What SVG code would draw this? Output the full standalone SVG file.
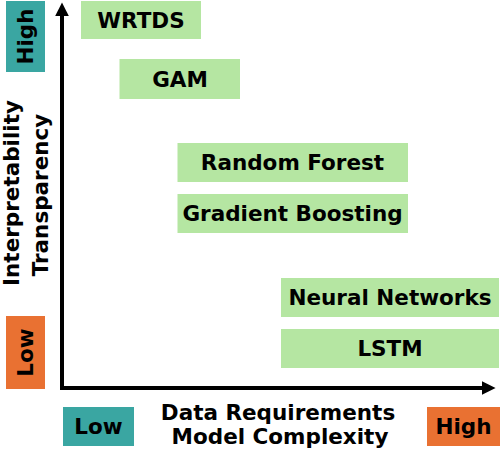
<svg xmlns="http://www.w3.org/2000/svg" width="500" height="456" viewBox="0 0 500 456">
<style>
text{font-family:"DejaVu Sans","Liberation Sans",sans-serif;font-weight:700;font-size:21.5px;fill:#000;text-anchor:middle}
.g{fill:#b5e6a2}
.t{fill:#3aa6a2}
.o{fill:#e97132}
.ax{stroke:#000;stroke-width:4;fill:none}
</style>
<defs>
<marker id="ah" markerWidth="4" markerHeight="4" refX="1" refY="2" orient="auto" markerUnits="strokeWidth" viewBox="0 0 4 4">
<path d="M0,0.3 L3.4,2 L0,3.7 Z" fill="#000"/>
</marker>
</defs>
<g id="axes">
<path class="ax" d="M62,389 L62,12" marker-end="url(#ah)"/>
<path class="ax" d="M60,388 L486,388" marker-end="url(#ah)"/>
</g>
<g id="ylabel">
<text transform="translate(0,193) rotate(-90)" y="18.5">Interpretability</text>
<text transform="translate(0,195) rotate(-90)" y="47.5">Transparency</text>
</g>
<g id="xlabel">
<text x="278" y="420">Data Requirements</text>
<text x="280" y="444">Model Complexity</text>
</g>
<g id="y-high"><rect class="t" x="6" y="1" width="39" height="71"/><text transform="translate(25.5,36.5) rotate(-90)" y="7.5">High</text></g>
<g id="y-low"><rect class="o" x="6" y="316" width="39" height="73"/><text transform="translate(25.5,352.5) rotate(-90)" y="7.5">Low</text></g>
<g id="x-low"><rect class="t" x="63" y="407" width="71" height="39"/><text x="98.5" y="434">Low</text></g>
<g id="x-high"><rect class="o" x="427" y="407" width="73" height="39"/><text x="463.5" y="434">High</text></g>
<g id="wrtds"><rect class="g" x="81" y="1" width="120" height="38"/><text x="141" y="27.5">WRTDS</text></g>
<g id="gam"><rect class="g" x="119.5" y="59" width="120.5" height="40"/><text x="180" y="87">GAM</text></g>
<g id="rf"><rect class="g" x="177.5" y="143" width="230.5" height="39"/><text x="292.5" y="170">Random Forest</text></g>
<g id="gb"><rect class="g" x="177.5" y="194" width="230.5" height="39"/><text x="292.5" y="221">Gradient Boosting</text></g>
<g id="nn"><rect class="g" x="281" y="278" width="218" height="39"/><text x="390" y="305">Neural Networks</text></g>
<g id="lstm"><rect class="g" x="281" y="329" width="218" height="39"/><text x="390" y="356">LSTM</text></g>
</svg>
